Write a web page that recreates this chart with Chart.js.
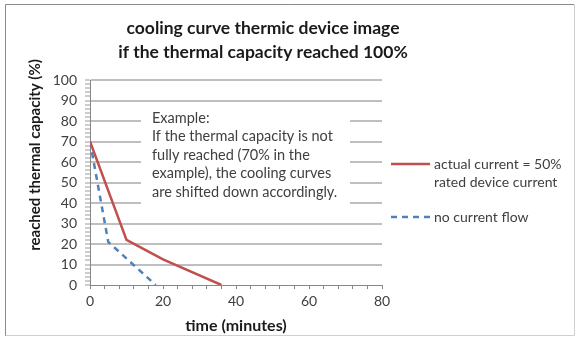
<!DOCTYPE html>
<html>
<head>
<meta charset="utf-8">
<script src="https://cdn.jsdelivr.net/npm/chart.js@4.4.1/dist/chart.umd.min.js"></script>
<style>
  html, body { margin: 0; padding: 0; background: #fff; }
  #wrap { width: 576px; height: 338px; position: relative; }
</style>
</head>
<body>
<div id="wrap"><canvas id="cool" width="576" height="338"></canvas></div>
<script>
// cooling curves (time in minutes, reached capacity in %)
const redX = [0, 10, 20, 36];
const redY = [70, 22, 12.5, 0];
const blueX = [0, 5, 18];
const blueY = [70, 21, 0];
const seriesNames = [['actual current = 50%', 'rated device current'], ['no current flow']];
const titleLines = ['cooling curve thermic device image', 'if the thermal capacity reached 100%'];
const noteLines = ['Example:', 'If the thermal capacity is not', 'fully reached (70% in the', 'example), the cooling curves', 'are shifted down accordingly.'];
const xMax = 80, xLabelStep = 20, xMinor = 4;
const yMax = 100, yLabelStep = 10, yMinor = 2;

const FONT = 'Lato, "Open Sans", sans-serif';
const TXT = '#404040';

const pts = (xs, ys) => xs.map((x, i) => ({ x, y: ys[i] }));

// frame, titles, note box and legend
const decor = {
  id: 'decor',
  beforeDraw(c) {
    const g = c.ctx;
    g.save();
    g.fillStyle = '#fff'; g.fillRect(0, 0, c.width, c.height);
    g.lineWidth = 1;
    g.strokeStyle = '#8a8a8a';
    g.beginPath(); g.moveTo(5.5, 336); g.lineTo(5.5, 4.5); g.lineTo(574, 4.5); g.stroke();
    g.strokeStyle = '#cfcfcf';
    g.beginPath(); g.moveTo(5.5, 335.5); g.lineTo(574.5, 335.5); g.lineTo(574.5, 4.5); g.stroke();
    g.restore();
  },
  beforeDatasetsDraw(c) {
    const g = c.ctx;
    g.save();
    // note box hides the grid behind it
    g.fillStyle = '#fff';
    g.fillRect(141, 106, 209, 103);
    g.fillStyle = TXT;
    g.font = '14.5px ' + FONT;
    g.textBaseline = 'middle';
    noteLines.forEach((t, i) => g.fillText(t, 152, 118 + i * 18.6));
    g.restore();
  },
  afterDraw(c) {
    const g = c.ctx;
    g.save();
    g.fillStyle = '#1a1a1a';
    g.textAlign = 'center';
    g.textBaseline = 'middle';
    g.font = 'bold 17.5px ' + FONT;
    titleLines.forEach((t, i) => g.fillText(t, 263, 28 + i * 24));
    // axis titles
    g.font = 'bold 16px ' + FONT;
    g.fillText('time (minutes)', (c.chartArea.left + c.chartArea.right) / 2, 326);
    g.font = 'bold 15px ' + FONT;
    g.save();
    g.translate(35, 155);
    g.rotate(-Math.PI / 2);
    g.fillText('reached thermal capacity (%)', 0, 0);
    g.restore();
    // legend
    g.textAlign = 'left';
    g.font = '14px ' + FONT;
    const rows = [164, 217];
    c.data.datasets.forEach((ds, i) => {
      const y = rows[i];
      g.strokeStyle = ds.borderColor;
      g.lineWidth = ds.borderWidth;
      g.setLineDash(ds.borderDash || []);
      g.beginPath(); g.moveTo(391, y); g.lineTo(430, y); g.stroke();
      g.setLineDash([]);
      g.fillStyle = TXT;
      seriesNames[i].forEach((t, k) => g.fillText(t, 434, y + k * 18));
    });
    g.restore();
  }
};

new Chart(document.getElementById('cool'), {
  type: 'line',
  data: {
    datasets: [
      { data: pts(redX, redY), borderColor: '#c0504d', borderWidth: 2.5, pointRadius: 0, tension: 0 },
      { data: pts(blueX, blueY), borderColor: '#4f81bd', borderWidth: 2.5, borderDash: [6, 5], pointRadius: 0, tension: 0 }
    ]
  },
  options: {
    responsive: false,
    animation: false,
    layout: { padding: { left: 46, right: 194, top: 80, bottom: 23 } },
    plugins: { legend: { display: false }, tooltip: { enabled: false } },
    scales: {
      x: {
        type: 'linear', min: 0, max: xMax,
        afterFit: s => { s.height = 30; },
        afterBuildTicks: s => { s.ticks = []; for (let v = 0; v <= xMax; v += xMinor) s.ticks.push({ value: v }); },
        ticks: {
          autoSkip: false, maxRotation: 0, color: TXT, font: { family: FONT, size: 14 }, padding: 4,
          callback: v => (v % xLabelStep === 0 ? v : '')
        },
        grid: { drawOnChartArea: false, tickLength: 4, tickColor: '#868686', tickWidth: 1 },
        border: { color: '#868686', width: 1 }
      },
      y: {
        type: 'linear', min: 0, max: yMax,
        afterFit: s => { s.width = 44; },
        afterBuildTicks: s => { s.ticks = []; for (let v = 0; v <= yMax; v += yMinor) s.ticks.push({ value: v }); },
        ticks: {
          autoSkip: false, color: TXT, font: { family: FONT, size: 14 }, padding: 8,
          callback: v => (v % yLabelStep === 0 ? v : '')
        },
        grid: {
          color: ctx => (ctx.tick && ctx.tick.value > 0 && ctx.tick.value % yLabelStep === 0 ? '#bfbfbf' : 'rgba(0,0,0,0)'),
          lineWidth: 2, tickLength: 5, tickColor: '#9a9a9a', tickWidth: 1
        },
        border: { color: '#868686', width: 1 }
      }
    }
  },
  plugins: [decor]
});
</script>
</body>
</html>
